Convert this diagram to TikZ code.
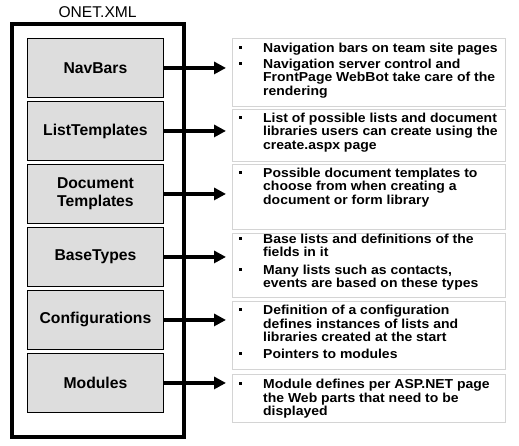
\documentclass[tikz,border=0pt]{standalone}
\usepackage{fontspec}
\setmainfont{Liberation Sans}
\newfontfamily\rtfont[FakeStretch=1.075]{Liberation Sans}
\usetikzlibrary{arrows.meta}
\definecolor{boxgray}{RGB}{221,221,221}
\definecolor{edgegray}{RGB}{212,212,212}
\newcommand\bulsq[1]{\fill (238.5,#1-3) rectangle (241.5,#1-6);}
\begin{document}
\begin{tikzpicture}[x=1pt,y=-1pt,
  lbox/.style={draw=black,line width=0.9pt,fill=boxgray,minimum width=136pt,minimum height=59pt,
    anchor=north west,inner sep=0pt,align=center,
    font=\bfseries\fontsize{15.7}{18.5}\selectfont},
  rbox/.style={draw=edgegray,line width=1.1pt,fill=white,minimum width=273pt,anchor=north west,inner sep=0pt},
  para/.style={anchor=north west,inner sep=0pt,align=left,
    font=\rtfont\bfseries\fontsize{13}{13.7}\selectfont},
  conn/.style={line width=3.6pt,-{Triangle[length=12pt,width=12pt]},shorten >=6pt}]
\useasboundingbox (0,0) rectangle (519,445);
\fill[white] (0,0) rectangle (519,445);

\node[anchor=base,font=\fontsize{15.6}{18}\selectfont] (title) at (97.6,17) {ONET.XML};
\draw[line width=4pt] (11.5,23.5) rectangle (183.7,437);

% left boxes
\node[lbox] (l1) at (27,38) {NavBars};
\node[lbox] (l2) at (27,101) {ListTemplates};
\node[lbox] (l3) at (27,164) {Document\\Templates};
\node[lbox] (l4) at (27,227) {BaseTypes};
\node[lbox] (l5) at (27,290) {Configurations};
\node[lbox] (l6) at (27,353) {Modules};

% right boxes
\node[rbox,minimum height=68pt] (r1) at (232,38) {};
\node[rbox,minimum height=52pt] (r2) at (232,109) {};
\node[rbox,minimum height=65pt] (r3) at (232,164) {};
\node[rbox,minimum height=64pt] (r4) at (232,233) {};
\node[rbox,minimum height=68pt] (r5) at (232,301) {};
\node[rbox,minimum height=48pt] (r6) at (232,374) {};

% connectors
\foreach \i in {1,...,6}{
  \draw[conn] (l\i.east) -- (l\i.east -| r\i.west);
}

% texts
\bulsq{52}
\node[para] (t1a) at (263,42) {\rule{0pt}{10pt}Navigation bars on team site pages};
\bulsq{68}
\node[para] (t1b) at (263,58) {\rule{0pt}{10pt}Navigation server control and\\FrontPage WebBot take care of the\\rendering};
\bulsq{122}
\node[para] (t2a) at (263,112) {\rule{0pt}{10pt}List of possible lists and document\\libraries users can create using the\\create.aspx page};
\bulsq{177}
\node[para] (t3a) at (263,167) {\rule{0pt}{10pt}Possible document templates to\\choose from when creating a\\document or form library};
\bulsq{243}
\node[para] (t4a) at (263,233) {\rule{0pt}{10pt}Base lists and definitions of the\\fields in it};
\bulsq{274}
\node[para] (t4b) at (263,264) {\rule{0pt}{10pt}Many lists such as contacts,\\events are based on these types};
\bulsq{314.3}
\node[para] (t5a) at (263,304.3) {\rule{0pt}{10pt}Definition of a configuration\\defines instances of lists and\\libraries created at the start};
\bulsq{358.3}
\node[para] (t5b) at (263,348.3) {\rule{0pt}{10pt}Pointers to modules};
\bulsq{388.3}
\node[para] (t6a) at (263,378.3) {\rule{0pt}{10pt}Module defines per ASP.NET page\\the Web parts that need to be\\displayed};
\end{tikzpicture}
\end{document}
